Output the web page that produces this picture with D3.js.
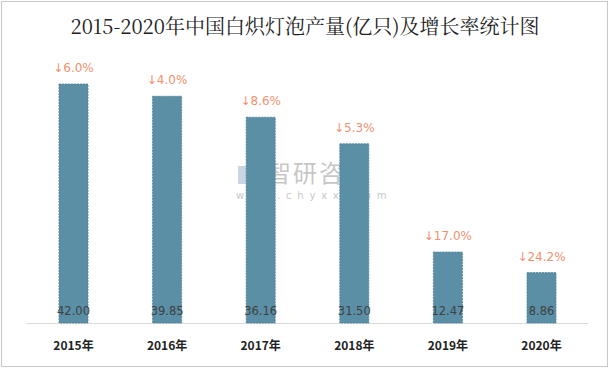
<!DOCTYPE html>
<html><head><meta charset="utf-8">
<script src="https://cdn.jsdelivr.net/npm/d3@7"></script>
<style>body{margin:0;background:#fff}svg{display:block}</style>
</head><body>
<script>
const categories = ["2015年","2016年","2017年","2018年","2019年","2020年"];
const values = [42.00, 39.85, 36.16, 31.50, 12.47, 8.86];
const growth = ["↓6.0%","↓4.0%","↓8.6%","↓5.3%","↓17.0%","↓24.2%"];
const valueLabels = ["42.00","39.85","36.16","31.50","12.47","8.86"];

const W = 610, H = 369;
const svg = d3.select("body").append("svg").attr("width", W).attr("height", H);
svg.append("rect").attr("x",1.5).attr("y",1.5).attr("width",606).attr("height",365)
  .attr("fill","#fff").attr("stroke","#c8c8c8");

svg.append("text").attr("x",305).attr("y",34).attr("text-anchor","middle")
  .attr("font-family","'Noto Serif CJK SC','Noto Sans CJK SC',serif").attr("font-size",20)
  .attr("fill","#222").text("2015-2020年中国白炽灯泡产量(亿只)及增长率统计图");

const x = d3.scaleBand().domain(categories).range([26.7, 588.3]).paddingInner(0.69).paddingOuter(0.345);
const y = d3.scaleLinear().domain([0, 45]).range([323, 323 - 45*5.69]);

// watermark
const wm = svg.append("g").attr("opacity",0.55);
wm.append("rect").attr("x",238).attr("y",166).attr("width",8).attr("height",18).attr("fill","#9fb3cc");
wm.append("rect").attr("x",248).attr("y",166).attr("width",12).attr("height",8).attr("fill","#7f9fc4");
wm.append("rect").attr("x",248).attr("y",176).attr("width",12).attr("height",8).attr("fill","#b8c8dc");
wm.append("text").attr("x",267).attr("y",182).attr("font-family","'Noto Sans CJK SC'").attr("font-size",24)
  .attr("fill","#999").attr("letter-spacing",2).text("智研咨询");
wm.append("text").attr("x",236).attr("y",199).attr("font-family","'DejaVu Sans'").attr("font-size",10)
  .attr("fill","#999").attr("letter-spacing",5.8).text("www.chyxx.com");

svg.append("line").attr("x1",26.7).attr("x2",588.3).attr("y1",323.5).attr("y2",323.5)
  .attr("stroke","#d9d9d9");

svg.selectAll("rect.bar").data(values).join("rect").attr("class","bar")
  .attr("x",(d,i)=>x(categories[i])).attr("width",x.bandwidth())
  .attr("y",d=>y(d)).attr("height",d=>y(0)-y(d))
  .attr("fill","#5B8FA6").attr("stroke","#4d7f96").attr("stroke-dasharray","2,1").attr("stroke-width",0.8);

svg.selectAll("text.val").data(valueLabels).join("text").attr("class","val")
  .attr("x",(d,i)=>x(categories[i])+x.bandwidth()/2).attr("y",315)
  .attr("text-anchor","middle").attr("font-family","'DejaVu Sans',sans-serif").attr("font-size",11.5)
  .attr("fill","#404040").text(d=>d);

svg.selectAll("text.gr").data(growth).join("text").attr("class","gr")
  .attr("x",(d,i)=>x(categories[i])+x.bandwidth()/2).attr("y",(d,i)=>y(values[i])-12)
  .attr("text-anchor","middle").attr("font-family","'DejaVu Sans',sans-serif").attr("font-size",12)
  .attr("fill","#F0906E").text(d=>d);

const xa = svg.append("g").attr("transform","translate(0,323)")
  .call(d3.axisBottom(x).tickSize(0).tickPadding(18));
xa.select(".domain").remove();
xa.selectAll("text").attr("font-family","'Noto Sans CJK SC',sans-serif").attr("font-size",12)
  .attr("font-weight","bold").attr("fill","#222");
</script>
</body></html>
